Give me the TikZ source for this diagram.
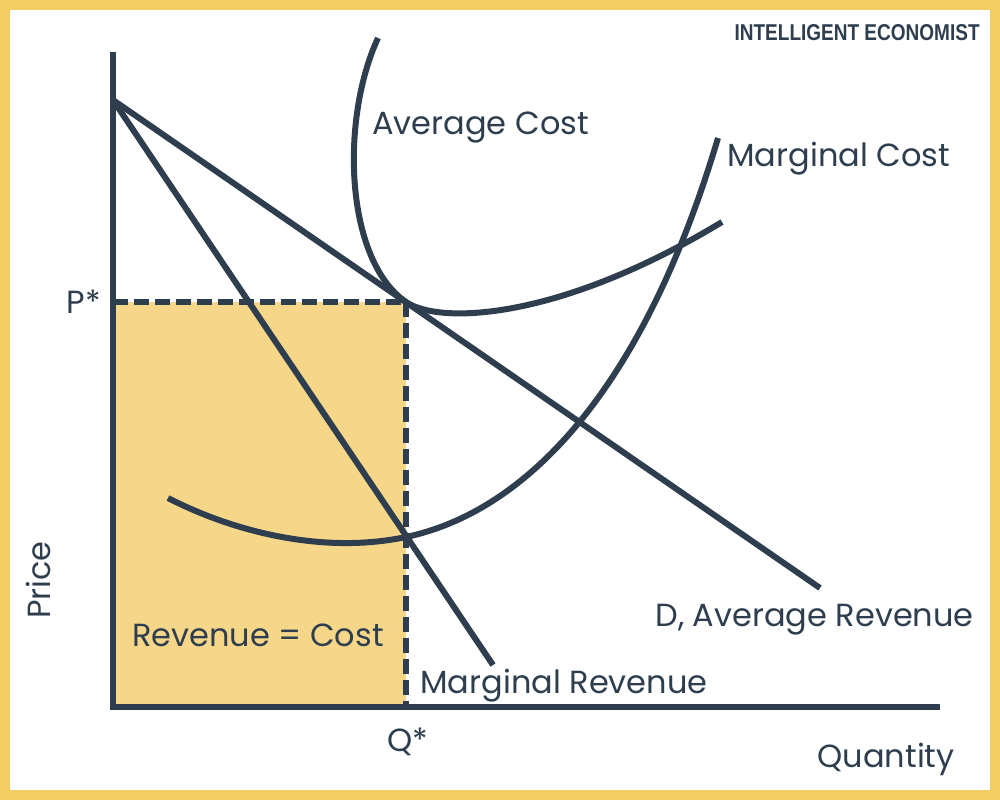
\documentclass[tikz,border=0pt]{standalone}
\usepackage{fontspec}
\setmainfont{Poppins}
\usepackage{xcolor}
\usepackage{tikz}

\definecolor{navy}{HTML}{2E3E4E}
\definecolor{frameyellow}{HTML}{F2CD64}
\definecolor{areayellow}{HTML}{F6D78A}

\tikzset{
  curve/.style={navy, line width=3pt},
  guide/.style={navy, line width=3pt, dash pattern=on 7.5pt off 3pt},
  lbl/.style={text=navy, font=\fontsize{16}{18}\selectfont, inner sep=0pt}
}

\begin{document}
\begin{tikzpicture}[x=0.5pt,y=-0.5pt]
  \useasboundingbox (0,0) rectangle (1000,800);
  \fill[frameyellow] (0,0) rectangle (1000,800);
  \fill[white] (10,10) rectangle (990,790);

  % points on the axes
  \coordinate (O) at (113,707);
  \coordinate (ytop) at (113,52);
  \coordinate (xend) at (940,707);
  \coordinate (A) at (113,100);
  \coordinate (P) at (113,302);
  \coordinate (E) at (406,302);
  \coordinate (Q) at (406,707);
  \coordinate (M) at (406,537);
  \coordinate (dEnd) at (820,588);
  \coordinate (mrEnd) at (493,665);

  \fill[areayellow] (P) rectangle (Q);
  \draw[guide] (P) -- (E);
  \draw[guide] (E) -- (Q);

  \draw[curve, line join=miter] (ytop) -- (O) -- (xend);
  \draw[curve] (A) -- (dEnd);
  \draw[curve] (A) -- (mrEnd);

  % cost curves
  \draw[curve] (378,38) .. controls (340,120) and (345,260) .. (E)
               .. controls (440,325) and (560,320) .. (722,222);
  \draw[curve] (168,498) .. controls (230,530) and (320,555) .. (M)
               .. controls (520,513) and (640,400) .. (718,138);

  \node[lbl, anchor=west] (ac) at (372,128) {Average Cost};
  \node[lbl, anchor=west] (mc) at (727,159) {Marginal Cost};
  \node[lbl, anchor=west] (dar) at (655,620) {D, Average Revenue};
  \node[lbl, anchor=west] (mr) at (420,686) {Marginal Revenue};
  \node[lbl] (rc) at (258,635) {Revenue = Cost};
  \node[lbl, anchor=east] (pstar) at (101,302) {P*};
  \node[lbl] (qstar) at (408,742) {Q*};
  \node[lbl, rotate=90] (price) at (38,580) {Price};
  \node[lbl, anchor=east] (qty) at (955,759) {Quantity};
  \node[text=navy, anchor=east, inner sep=0pt] (logo) at (980,33)
    {\resizebox{122.5pt}{8pt}{\fontspec{Liberation Sans}\bfseries INTELLIGENT ECONOMIST}};
\end{tikzpicture}
\end{document}
